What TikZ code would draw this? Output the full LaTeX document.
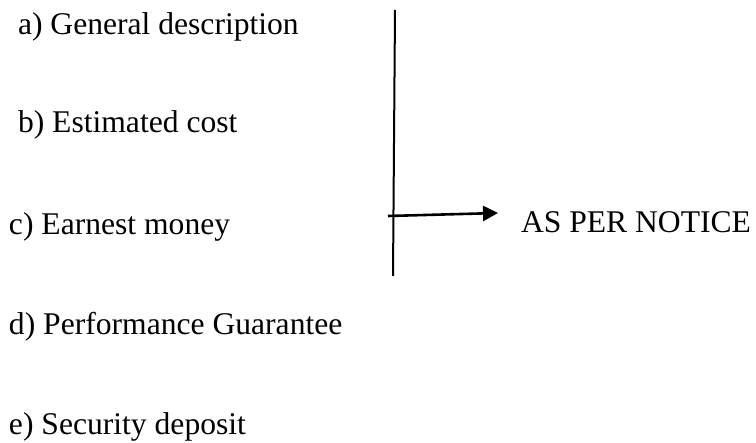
\documentclass[tikz,border=0pt]{standalone}
\usepackage{fontspec}
\setmainfont{Liberation Serif}
\usetikzlibrary{arrows.meta}
\begin{document}
\begin{tikzpicture}[x=1pt,y=1pt,
  lbl/.style={anchor=base west,inner sep=0pt,outer sep=0pt,font=\fontsize{31.6}{38}\selectfont},
  rule/.style={line width=2pt,black},
  pointer/.style={line width=2.6pt,black,-{Triangle[length=15pt,width=15pt]}}]
\useasboundingbox (0,0) rectangle (756,-443);
\node[lbl] (a) at (18,-35) {a) General description};
\node[lbl] (b) at (18,-133) {b) Estimated cost};
\node[lbl] (c) at (9,-235) {c) Earnest money};
\node[lbl] (d) at (9,-335) {d) Performance Guarantee};
\node[lbl] (e) at (9,-435) {e) Security deposit};
\node[lbl] (n) at (521,-233) {AS PER NOTICE};
\coordinate (top) at (395,-10);
\coordinate (bot) at (393,-276);
\coordinate (s) at (388,-216);
\coordinate (t) at (498,-213);
\draw[rule] (top) -- (bot);
\draw[pointer] (s) -- (t);
\end{tikzpicture}
\end{document}
